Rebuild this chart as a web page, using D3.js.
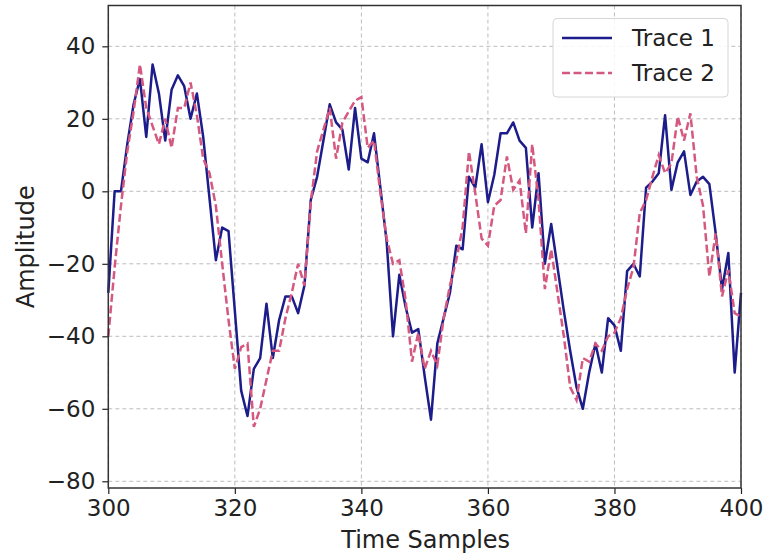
<!DOCTYPE html>
<html>
<head>
<meta charset="utf-8">
<script src="https://cdn.jsdelivr.net/npm/d3@7"></script>
<style>
  body { margin: 0; background: #fff; }
  svg text { font-family: "DejaVu Sans", sans-serif; fill: #222; }
</style>
</head>
<body>
<div id="chart"></div>
<script>
var width = 765,
    height = 555;

// time samples 300..400
var samples = d3.range(300, 401);

var trace1 = [-28, 0, 0, 13, 24, 31, 15, 35, 27, 14,
  28, 32, 29, 20, 27, 15, -2, -19, -10, -11,
  -33, -55, -62, -49, -46, -31, -46, -35.5, -29, -29,
  -33.6, -26, -2.4, 4, 14, 24, 19, 17, 6, 23,
  9, 8, 16, 1, -14, -40, -23, -32, -39, -38,
  -51, -63, -42, -35, -28, -15, -16, 4, 1, 13,
  -3, 4.5, 16, 16, 19, 14, 12, -10, 5, -20,
  -9, -21, -33, -44, -54, -60, -50, -42, -50, -35,
  -37, -44, -22, -20, -23.5, 1, 2.7, 5, 21, 0.4,
  8, 11, -1, 2.7, 4, 2, -11.6, -27, -17, -50,
  -28];

var trace2 = [-40, -21, -4, 11, 22, 35, 23, 18, 13, 20,
  12, 23, 23, 30, 21, 9, 5, -4, -20, -35.5,
  -49, -43, -42, -65, -60, -52, -44, -44, -35, -28,
  -20, -26, -3, 11, 17, 23, 9, 19, 22, 25,
  26, 12, 14, -0.5, -13, -20, -19, -30, -47, -39,
  -49, -44, -48, -35, -26, -19, -10, 11, -0.5, -13,
  -15, -4, -2.4, 9.6, 0.4, 3, -11.6, 13, -2.4, -27,
  -16, -28, -40, -54, -57.6, -46, -47, -42, -44, -40,
  -39, -35, -27, -21, -6, -2.4, 4, 10, 5, 7.7,
  20.6, 14, 21.5, 4, -4, -23.5, -11.6, -29, -21.7, -33.6,
  -34.6];

var seriesNames = ["Trace 1", "Trace 2"];
var seriesColors = ["#1c1c8a", "#d4587f"];
var xTicks = [300, 320, 340, 360, 380, 400];
var yTicks = [-80, -60, -40, -20, 0, 20, 40];

var margin = {left: 108.3, right: 24, top: 5.5, bottom: 67};
var plotW = width - margin.left - margin.right,
    plotH = height - margin.top - margin.bottom;

var x = d3.scaleLinear().domain([300, 400]).range([0, plotW]);
var y = d3.scaleLinear().domain([-81.85, 51.26]).range([plotH, 0]);

var svg = d3.select("#chart")
  .append("svg")
  .attr("width", width)
  .attr("height", height);

var g = svg.append("g")
  .attr("transform", "translate(" + margin.left + "," + margin.top + ")");

// grid
g.append("g").selectAll("line")
  .data(xTicks)
  .enter().append("line")
  .attr("x1", function(d) { return x(d); })
  .attr("x2", function(d) { return x(d); })
  .attr("y1", 0).attr("y2", plotH)
  .attr("stroke", "#bdbdbd").attr("stroke-width", 1)
  .attr("stroke-dasharray", "4,3");

g.append("g").selectAll("line")
  .data(yTicks)
  .enter().append("line")
  .attr("x1", 0).attr("x2", plotW)
  .attr("y1", function(d) { return y(d); })
  .attr("y2", function(d) { return y(d); })
  .attr("stroke", "#bdbdbd").attr("stroke-width", 1)
  .attr("stroke-dasharray", "4,3");

// lines
var line = d3.line()
  .x(function(d, i) { return x(samples[i]); })
  .y(function(d) { return y(d); });

g.append("path")
  .datum(trace1)
  .attr("d", line)
  .attr("fill", "none")
  .attr("stroke", seriesColors[0])
  .attr("stroke-width", 2.5)
  .attr("stroke-linejoin", "round");

g.append("path")
  .datum(trace2)
  .attr("d", line)
  .attr("fill", "none")
  .attr("stroke", seriesColors[1])
  .attr("stroke-width", 2.5)
  .attr("stroke-dasharray", "8,3.5");

// axes
var xAxis = d3.axisBottom(x)
  .tickValues(xTicks)
  .tickSize(6)
  .tickPadding(6)
  .tickFormat(d3.format("d"));

var yAxis = d3.axisLeft(y)
  .tickValues(yTicks)
  .tickSize(6)
  .tickPadding(7)
  .tickFormat(function(d) { return d < 0 ? "\u2212" + Math.abs(d) : d; });

var xg = g.append("g")
  .attr("transform", "translate(0," + plotH + ")")
  .call(xAxis);
var yg = g.append("g").call(yAxis);

[xg, yg].forEach(function(a) {
  a.select(".domain").remove();
  a.selectAll(".tick line").attr("stroke", "#222").attr("stroke-width", 1.2);
  a.selectAll(".tick text")
    .style("font-family", "DejaVu Sans")
    .style("font-size", "23px")
    .attr("fill", "#222");
});

// frame
g.append("rect")
  .attr("width", plotW)
  .attr("height", plotH)
  .attr("fill", "none")
  .attr("stroke", "#333")
  .attr("stroke-width", 1.5);

// axis labels
svg.append("text")
  .attr("x", margin.left + plotW / 2 + 1)
  .attr("y", 548)
  .attr("text-anchor", "middle")
  .style("font-size", "24px")
  .text("Time Samples");

svg.append("text")
  .attr("transform", "translate(34," + (margin.top + plotH / 2) + ") rotate(-90)")
  .attr("text-anchor", "middle")
  .style("font-size", "24px")
  .text("Amplitude");

// legend
var legend = svg.append("g")
  .attr("transform", "translate(553,18.5)");

legend.append("rect")
  .attr("width", 175)
  .attr("height", 78.5)
  .attr("rx", 4)
  .attr("fill", "#fff")
  .attr("fill-opacity", 0.85)
  .attr("stroke", "#d6d6d6")
  .attr("stroke-width", 1);

seriesNames.forEach(function(name, i) {
  var row = legend.append("g")
    .attr("transform", "translate(0," + (19.5 + i * 35) + ")");
  row.append("line")
    .attr("x1", 9).attr("x2", 59)
    .attr("y1", 0).attr("y2", 0)
    .attr("stroke", seriesColors[i])
    .attr("stroke-width", 2.5)
    .attr("stroke-dasharray", i === 1 ? "8,3.5" : null);
  row.append("text")
    .attr("x", 79)
    .attr("y", 8)
    .style("font-size", "23px")
    .text(name);
});
</script>
</body>
</html>
